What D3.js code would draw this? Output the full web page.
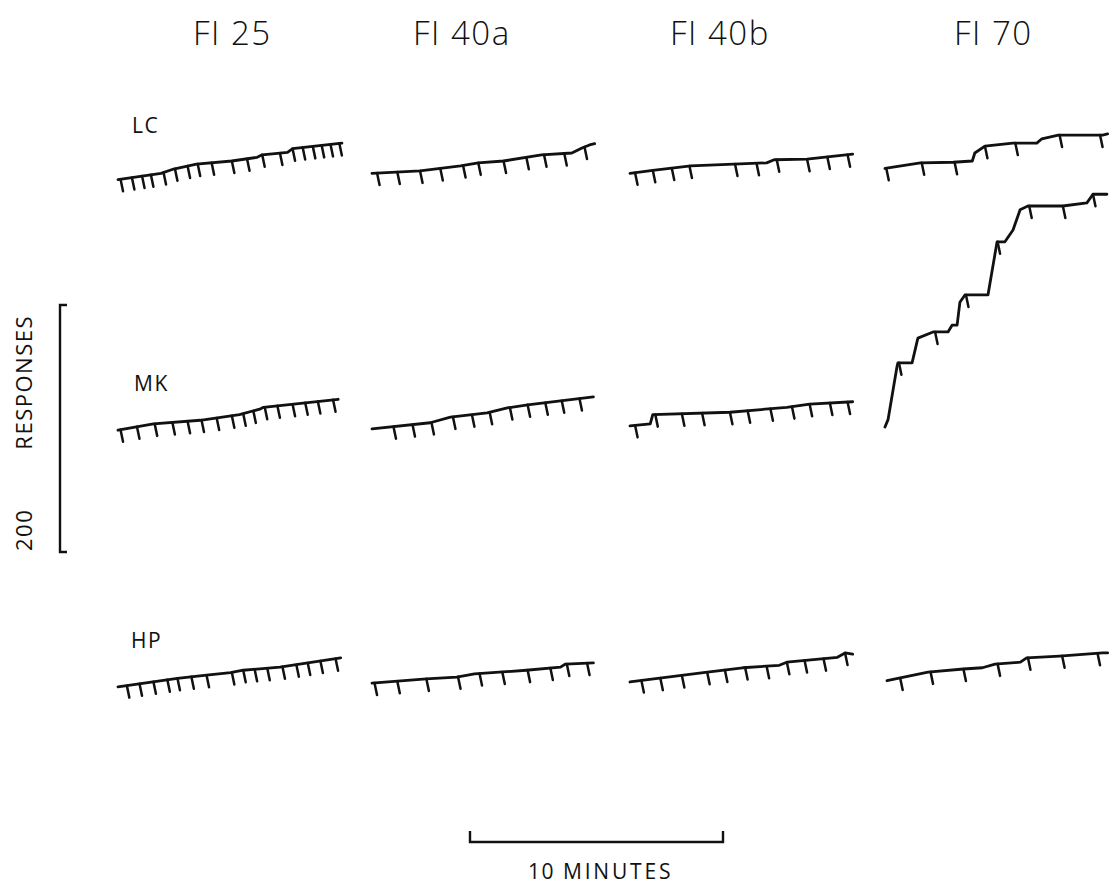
<!DOCTYPE html>
<html>
<head>
<meta charset="utf-8">
<script src="https://cdn.jsdelivr.net/npm/d3@7"></script>
<style>
  body { margin: 0; background: #fff; }
  text { font-family: "Open Sans", "Liberation Sans", sans-serif; fill: #111; }
</style>
</head>
<body>
<script>
// schedules (columns) and subjects (rows)
const schedules = ["FI 25", "FI 40a", "FI 40b", "FI 70"]
const subjects = ["LC", "MK", "HP"]

// cumulative records: [minutes, cumulative responses]
const lcFi25 = [[0, 2], [1.7, 7], [2.2, 10.5], [3.1, 14.5], [4.5, 17], [5.5, 20], [5.7, 22], [6.7, 24], [6.9, 27], [8.85, 31.5]]
const lcFi40a = [[0, 7], [1.9, 9], [3.5, 13], [4.2, 15.5], [5.2, 17], [6.7, 22], [7.9, 23.5], [8.3, 27.5], [8.6, 30], [8.8, 31]]
const lcFi40b = [[0, 7], [0.9, 9.5], [2.4, 13], [4.1, 14.5], [5.4, 15.5], [5.7, 18], [7.0, 18.5], [8.8, 22.5]]
const lcFi70 = [[0, 11], [1.4, 15.5], [2.7, 16], [3.45, 17], [3.55, 23.5], [3.95, 29], [5.05, 31.5], [6.0, 31.5], [6.2, 35], [6.85, 38], [8.6, 38], [8.8, 39]]

const mkFi25 = [[0, 1.5], [1.4, 6.5], [3.25, 9.5], [4.8, 14], [5.6, 18.5], [5.75, 20], [8.7, 26.5]]
const mkFi40a = [[0, 2.5], [2.3, 7.5], [3.1, 12], [4.55, 15.5], [5.35, 19.5], [6.15, 22], [8.75, 28.5]]
const mkFi40b = [[0, 5], [0.8, 6.5], [0.9, 14], [3.95, 16], [6.2, 20], [7.1, 22.5], [8.8, 24.5]]
const mkFi70 = [[0, 4], [0.12, 10], [0.47, 52.5], [0.51, 56], [1.07, 56], [1.3, 76], [1.9, 81], [2.49, 81], [2.65, 86.5], [2.85, 86.5], [2.96, 105], [3.16, 111], [4.07, 111], [4.43, 154], [4.74, 154], [5.06, 163.5], [5.34, 180], [5.65, 183], [7.03, 183], [7.98, 185.5], [8.22, 192.5], [8.77, 192.5]]

const hpFi25 = [[0, 2.5], [2.35, 9.5], [3.5, 12], [4.45, 14], [4.95, 16], [6.4, 18.5], [8.8, 26]]
const hpFi40a = [[0, 5.5], [2.15, 9], [3.35, 10.5], [4.05, 13], [6.1, 16], [7.45, 18.5], [7.65, 21], [8.75, 22]]
const hpFi40b = [[0, 6.5], [2.9, 14], [4.45, 18], [5.9, 20], [6.2, 22.5], [8.2, 26.5], [8.5, 30], [8.8, 29]]
const hpFi70 = [[0.08, 7.5], [1.7, 14.5], [3.1, 17], [3.85, 18], [4.35, 21], [5.35, 22.5], [5.6, 26], [6.9, 27.5], [8.6, 30], [8.8, 30]]

// reinforcement marks (minutes)
const lcFi25Rf = [0.1, 0.55, 0.95, 1.3, 1.8, 2.25, 2.75, 3.15, 3.7, 4.5, 5.1, 5.7, 6.4, 6.9, 7.3, 7.7, 8.05, 8.4, 8.75]
const lcFi40aRf = [0.2, 1.0, 1.9, 2.7, 3.6, 4.2, 5.2, 6.1, 6.8, 7.6, 8.4]
const lcFi40bRf = [0.2, 0.9, 1.65, 2.35, 4.15, 5.0, 5.8, 7.0, 7.8, 8.6]
const lcFi70Rf = [0.05, 1.45, 2.75, 3.95, 5.15, 6.9, 8.5]

const mkFi25Rf = [0.1, 0.75, 1.45, 2.15, 2.75, 3.3, 3.9, 4.5, 4.95, 5.35, 5.8, 6.3, 6.9, 7.4, 7.9, 8.5]
const mkFi40aRf = [0.85, 1.6, 2.35, 3.2, 3.95, 4.65, 5.45, 6.15, 6.85, 7.5, 8.2]
const mkFi40bRf = [0.2, 1.0, 2.05, 2.85, 3.95, 4.65, 5.55, 6.4, 7.1, 7.9, 8.6]
const mkFi70Rf = [0.55, 1.98, 3.2, 4.45, 5.7, 7.03, 8.22]

const hpFi25Rf = [0.35, 0.85, 1.4, 1.95, 2.35, 2.9, 3.5, 4.5, 4.95, 5.4, 5.9, 6.5, 7.05, 7.5, 8.0, 8.6]
const hpFi40aRf = [0.1, 1.0, 2.15, 3.4, 4.25, 5.15, 6.15, 7.05, 7.7, 8.5]
const hpFi40bRf = [0.45, 1.2, 2.05, 3.05, 3.75, 4.55, 5.4, 6.2, 6.9, 7.65, 8.5]
const hpFi70Rf = [0.6, 1.8, 3.1, 4.45, 5.65, 7.0, 8.4]

const records = [
    [lcFi25, lcFi40a, lcFi40b, lcFi70],
    [mkFi25, mkFi40a, mkFi40b, mkFi70],
    [hpFi25, hpFi40a, hpFi40b, hpFi70]
]
const reinforcements = [
    [lcFi25Rf, lcFi40aRf, lcFi40bRf, lcFi70Rf],
    [mkFi25Rf, mkFi40aRf, mkFi40bRf, mkFi70Rf],
    [hpFi25Rf, hpFi40aRf, hpFi40bRf, hpFi70Rf]
]

const width = 1110
const height = 887
const colX = [118, 372, 630, 885]
const colTitleX = [193, 413, 670, 954]
const rowBase = [182, 432, 690]
const rowLabel = [[132, 133], [134, 391], [131, 648]]

// 10 minutes = 253 px, 200 responses = 247 px
let x = d3.scaleLinear().domain([0, 10]).range([0, 253])
let y = d3.scaleLinear().domain([0, 200]).range([0, -247])

let svg = d3.select("body").append("svg")
    .attr("width", width)
    .attr("height", height)

svg.selectAll(".title")
    .data(schedules).enter()
    .append("text")
        .attr("class", "title")
        .attr("x", (d, i) => colTitleX[i])
        .attr("y", 45)
        .attr("font-size", 33)
        .attr("font-weight", 300)
        .attr("letter-spacing", 1.5)
        .text(d => d)

svg.selectAll(".subject")
    .data(subjects).enter()
    .append("text")
        .attr("class", "subject")
        .attr("x", (d, i) => rowLabel[i][0])
        .attr("y", (d, i) => rowLabel[i][1])
        .attr("font-size", 21)
        .attr("letter-spacing", 1.5)
        .text(d => d)

let line = d3.line().x(d => x(d[0])).y(d => y(d[1]))

// cumulative value at time t along a record
function valueAt(rec, t) {
    let ts = rec.map(d => d[0])
    let i = d3.bisectRight(ts, t)
    if (i <= 0) return rec[0][1]
    if (i >= rec.length) return rec[rec.length - 1][1]
    let a = rec[i - 1], b = rec[i]
    return a[1] + (b[1] - a[1]) * (t - a[0]) / (b[0] - a[0])
}

records.forEach((row, r) => {
    row.forEach((rec, c) => {
        let g = svg.append("g")
            .attr("transform", "translate(" + colX[c] + "," + rowBase[r] + ")")
        g.append("path")
            .datum(rec)
            .attr("d", line)
            .attr("fill", "none")
            .attr("stroke", "#111")
            .attr("stroke-width", 2.8)
            .attr("stroke-linejoin", "round")
            .attr("stroke-linecap", "round")
        g.selectAll(".pip")
            .data(reinforcements[r][c]).enter()
            .append("line")
                .attr("class", "pip")
                .attr("x1", t => x(t))
                .attr("y1", t => y(valueAt(rec, t)))
                .attr("x2", t => x(t) + 2.5)
                .attr("y2", t => y(valueAt(rec, t)) + 12)
                .attr("stroke", "#111")
                .attr("stroke-width", 2.5)
                .attr("stroke-linecap", "round")
    })
})

// response scale bar
let yBar = svg.append("g").attr("transform", "translate(60,552)")
yBar.append("path")
    .attr("d", "M7," + y(0) + "H0V" + y(200) + "H7")
    .attr("fill", "none")
    .attr("stroke", "#111")
    .attr("stroke-width", 2.4)
svg.append("text")
    .attr("transform", "translate(32,551) rotate(-90)")
    .attr("font-size", 22)
    .attr("letter-spacing", 1.5)
    .text("200")
svg.append("text")
    .attr("transform", "translate(32,315) rotate(-90)")
    .attr("text-anchor", "end")
    .attr("font-size", 22)
    .attr("letter-spacing", 1.5)
    .text("RESPONSES")

// time scale bar
let xBar = svg.append("g").attr("transform", "translate(470,842)")
xBar.append("path")
    .attr("d", "M" + x(0) + ",-11V0H" + x(10) + "V-11")
    .attr("fill", "none")
    .attr("stroke", "#111")
    .attr("stroke-width", 2.4)
svg.append("text")
    .attr("x", 528)
    .attr("y", 879)
    .attr("font-size", 21)
    .attr("letter-spacing", 1.5)
    .text("10")
svg.append("text")
    .attr("x", 563)
    .attr("y", 879)
    .attr("font-size", 21)
    .attr("letter-spacing", 2.8)
    .text("MINUTES")
</script>
</body>
</html>
